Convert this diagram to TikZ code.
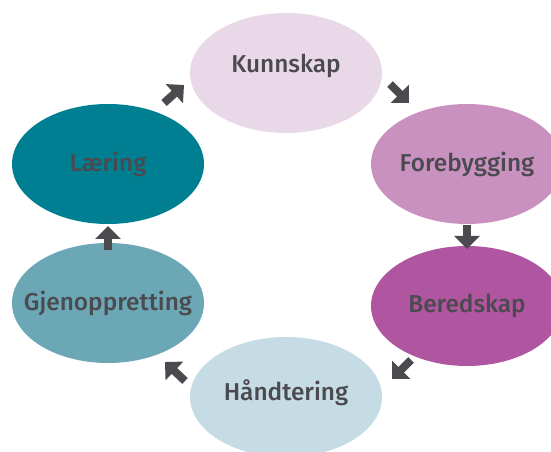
\documentclass[tikz,border=0pt]{standalone}
\usepackage{fontspec}
\setmainfont{Fira Sans}[BoldFont={Fira Sans Medium}]
\usetikzlibrary{arrows.meta,shapes.geometric}
\definecolor{ink}{HTML}{4A4A4F}
\definecolor{knowfill}{HTML}{E9D8E8}
\definecolor{prevfill}{HTML}{C991BF}
\definecolor{readyfill}{HTML}{B0559F}
\definecolor{handlefill}{HTML}{C5DCE4}
\definecolor{restorefill}{HTML}{6BA7B5}
\definecolor{learnfill}{HTML}{007F93}

\begin{document}
\begin{tikzpicture}[x=1bp,y=-1bp,font=\bfseries\fontsize{24.5pt}{28pt}\selectfont,text=ink,
  phase/.style={ellipse,minimum width=192bp,minimum height=120bp,inner sep=0pt},
  flow/.style={draw=ink,line width=8bp,-{Triangle[length=13bp,width=25bp]}}]

  \useasboundingbox (0,0) rectangle (551,452);

  \node[phase,fill=knowfill,label={[yshift=7bp]center:Kunnskap}] (1) at (286,73) {};
  \node[phase,fill=prevfill,label={center:Forebygging}] (2) at (467,164) {};
  \node[phase,fill=readyfill,label={center:Beredskap}] (3) at (467,306) {};
  \node[phase,fill=handlefill,label={[yshift=4bp]center:Håndtering}] (4) at (286,397) {};
  \node[phase,fill=restorefill,label={center:Gjenoppretting}] (5) at (108,303) {};
  \node[phase,fill=learnfill,label={center:Læring}] (6) at (108,164) {};

  % arrow ends between the ellipses
  \coordinate (a1) at (390,84);  \coordinate (b1) at (409,103);
  \coordinate (a2) at (467,225); \coordinate (b2) at (467,249);
  \coordinate (a3) at (411,360); \coordinate (b3) at (392,379);
  \coordinate (a4) at (185,381); \coordinate (b4) at (165,362);
  \coordinate (a5) at (108,250); \coordinate (b5) at (108,226);
  \coordinate (a6) at (164,103); \coordinate (b6) at (184,85);

  \foreach \i in {1,...,6}
    \draw[flow] (a\i) -- (b\i);
\end{tikzpicture}
\end{document}
